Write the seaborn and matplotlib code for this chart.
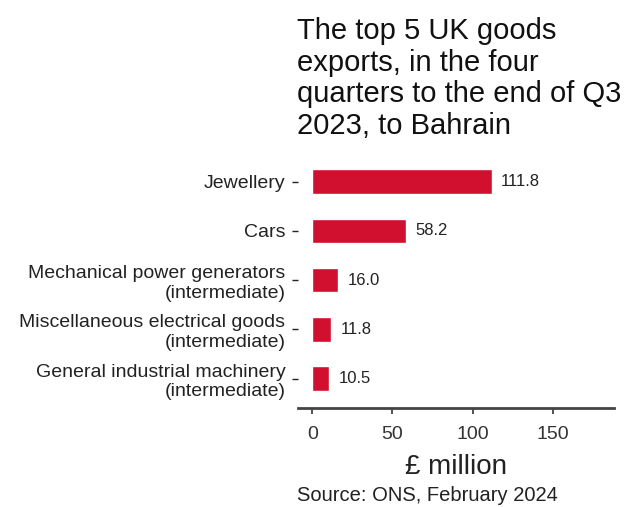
import matplotlib
matplotlib.use("Agg")
import matplotlib.pyplot as plt
import seaborn as sns
import pandas as pd

categories = [
    "Jewellery",
    "Cars",
    "Mechanical power generators\n(intermediate)",
    "Miscellaneous electrical goods\n(intermediate)",
    "General industrial machinery\n(intermediate)",
]
values = [111.8, 58.2, 16.0, 11.8, 10.5]
xticks = [0, 50, 100, 150]

sns.set_style("white")
plt.rcParams["font.family"] = ["Liberation Sans", "DejaVu Sans"]

df = pd.DataFrame({"Product": categories, "Value": values})

fig = plt.figure(figsize=(6.27, 5.07), dpi=100)
ax = fig.add_axes([0.475, 0.195, 0.504, 0.505])

sns.barplot(data=df, x="Value", y="Product", color="#d0102e", width=0.5,
            saturation=1, ax=ax)

for i, v in enumerate(values):
    ax.text(v + 6, i, f"{v:.1f}", va="center", ha="left", fontsize=12, color="#222222")

ax.set_xlim(-9, 188)
ax.set_xticks(xticks)
ax.set_ylim(4.6, -0.6)
ax.set_xlabel("£ million", fontsize=20, color="#222222", labelpad=8)
ax.set_ylabel("")
ax.tick_params(axis="x", labelsize=14, colors="#333333", length=4, width=1.2,
               direction="out", pad=9)
ax.tick_params(axis="y", labelsize=14, colors="#222222", length=4, width=1,
               direction="out", pad=5)
for lbl in ax.get_yticklabels():
    lbl.set_linespacing(1.2)
ax.xaxis.set_ticks_position("bottom")
ax.yaxis.set_ticks_position("left")

for s in ["top", "right", "left"]:
    ax.spines[s].set_visible(False)
ax.spines["bottom"].set_color("#444444")
ax.spines["bottom"].set_linewidth(2)

fig.text(0.473, 0.966,
         "The top 5 UK goods\nexports, in the four\nquarters to the end of Q3\n2023, to Bahrain",
         ha="left", va="top", fontsize=21, color="#111111", linespacing=1.16)
fig.text(0.473, 0.003, "Source: ONS, February 2024", ha="left", va="bottom",
         fontsize=14.5, color="#222222")

fig.savefig("out.png", dpi=100)
